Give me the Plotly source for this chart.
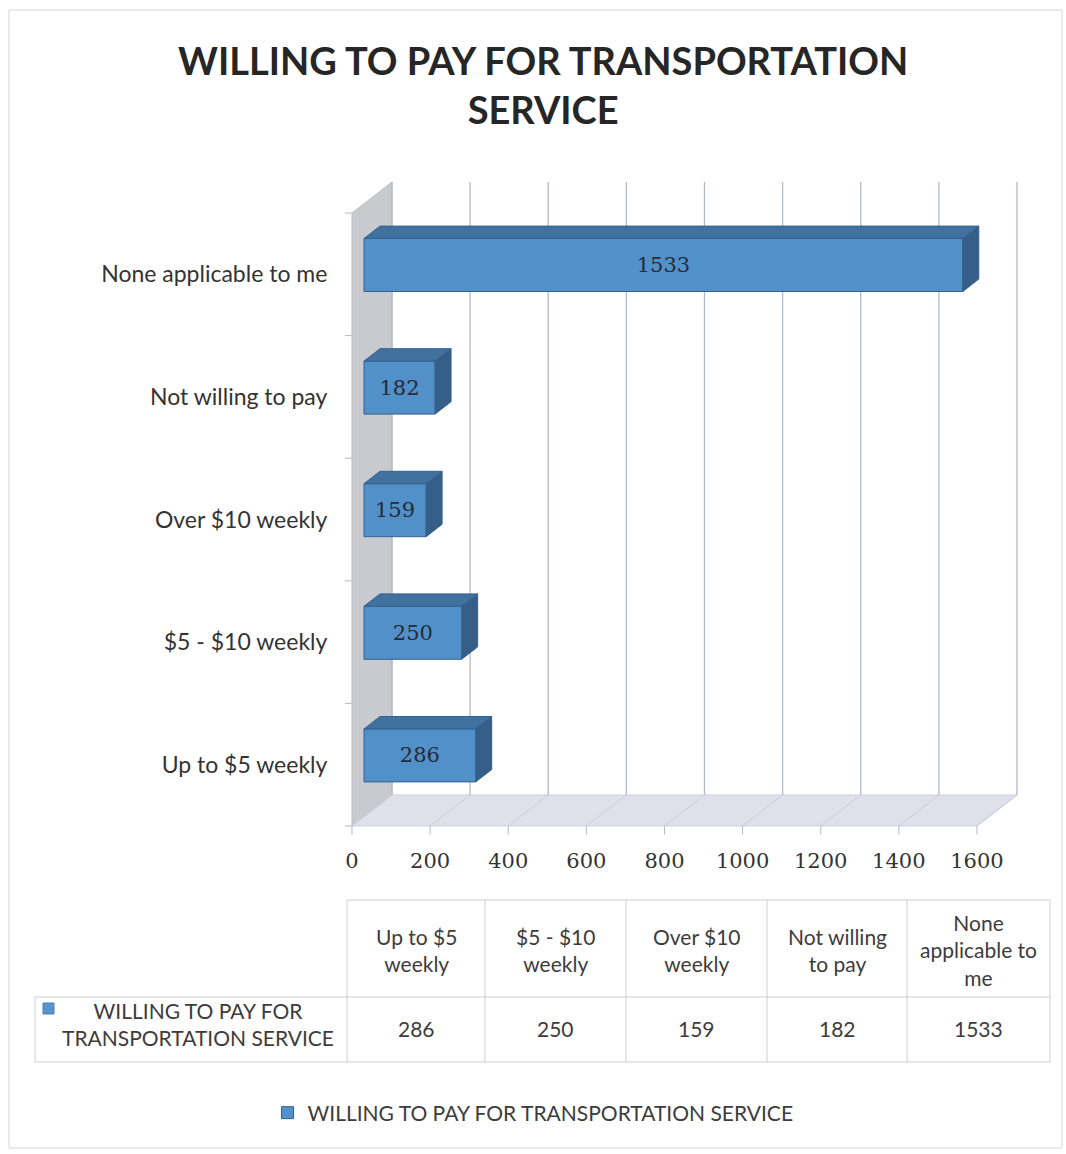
import plotly.graph_objects as go

# ---- data ----
categories = ["Up to $5 weekly", "$5 - $10 weekly", "Over $10 weekly",
              "Not willing to pay", "None applicable to me"]
values = [286, 250, 159, 182, 1533]
table_headers = ["Up to $5<br>weekly", "$5 - $10<br>weekly", "Over $10<br>weekly",
                 "Not willing<br>to pay", "None<br>applicable to<br>me"]
x_ticks = [0, 200, 400, 600, 800, 1000, 1200, 1400, 1600]
series_name = "WILLING TO PAY FOR TRANSPORTATION SERVICE"
series_label_wrapped = "WILLING TO PAY FOR<br>TRANSPORTATION SERVICE"
chart_title = "WILLING TO PAY FOR TRANSPORTATION<br>SERVICE"

# ---- page geometry ----
W, H = 1066, 1154
X0, SX = 352.0, 0.3906      # pixel of value 0 on the front plane, px per unit
Y0, SY = 826.0, 122.6       # pixel of category baseline, px per category band
X_RANGE = [-40, 1750]
Y_RANGE = [-0.12, 5.42]
DX = 40.0 / SX              # depth offset of the 3-D box (value units)
DY = 31.0 / SY              # depth offset of the 3-D box (category units)
D_FRONT, D_BACK = 0.30, 0.70  # bar depth span inside the box
BAR_H = 53.0 / SY


def px_x(p):
    return p / W


def px_y(p):
    return 1 - p / H


x_dom = [px_x(X0 + X_RANGE[0] * SX), px_x(X0 + X_RANGE[1] * SX)]
y_dom = [px_y(Y0 - Y_RANGE[0] * SY), px_y(Y0 - Y_RANGE[1] * SY)]

n = len(categories)
xmax = x_ticks[-1]

WALL = "#c9cad0"
FLOOR = "#dfe0ea"
GRID = "#b4b8c8"
BAR_FRONT = "#5190c9"
BAR_TOP = "#41719f"
BAR_SIDE = "#355f88"
BAR_EDGE = "#36628e"
TEXT = "#333333"

shapes = []


def data_path(xs, ys, fill, line_color, width=1):
    d = "M " + " L ".join(f"{x},{y}" for x, y in zip(xs, ys)) + " Z"
    shapes.append(dict(type="path", xref="x", yref="y", path=d, layer="below",
                       fillcolor=fill, line=dict(color=line_color, width=width)))


def data_line(x0, y0, x1, y1, color, width=1):
    shapes.append(dict(type="line", xref="x", yref="y", layer="below",
                       x0=x0, y0=y0, x1=x1, y1=y1, line=dict(color=color, width=width)))


# left side wall and floor of the 3-D box
data_path([0, DX, DX, 0], [0, DY, n + DY, n], WALL, "#bdbec4")
data_path([0, xmax, xmax + DX, DX], [0, 0, DY, DY], FLOOR, "#cfd1dd")

# back-wall gridlines, floor gridlines and value tick marks
for t in x_ticks:
    data_line(t + DX, DY, t + DX, n + DY, GRID, 1.3)
    data_line(t, 0, t + DX, DY, "#c9cbda")
    data_line(t, 0, t, -0.07, "#b8bac4")

# category tick marks on the front edge of the wall
for i in range(n + 1):
    data_line(-18, i, 0, i, "#b8bac4")

fig = go.Figure()

# bar top and side faces
top_x, top_y, side_x, side_y = [], [], [], []
for i, v in enumerate(values):
    yc = i + 0.5
    yt, yb = yc + BAR_H / 2, yc - BAR_H / 2
    a0, a1 = D_FRONT * DX, D_BACK * DX
    b0, b1 = D_FRONT * DY, D_BACK * DY
    top_x += [a0, v + a0, v + a1, a1, a0, None]
    top_y += [yt + b0, yt + b0, yt + b1, yt + b1, yt + b0, None]
    side_x += [v + a0, v + a1, v + a1, v + a0, v + a0, None]
    side_y += [yb + b0, yb + b1, yt + b1, yt + b0, yb + b0, None]

# bar front faces
fig.add_trace(go.Bar(
    orientation="h",
    x=values,
    y=[i + 0.5 + D_FRONT * DY for i in range(n)],
    base=[D_FRONT * DX] * n,
    width=BAR_H,
    marker=dict(color=BAR_FRONT, line=dict(color=BAR_EDGE, width=1)),
    text=[str(v) for v in values],
    textposition="inside",
    insidetextanchor="middle",
    constraintext="none",
    textangle=0,
    textfont=dict(family="DejaVu Serif", size=21, color="#262b38"),
    name=series_name,
    showlegend=True,
    hoverinfo="skip",
))
fig.add_trace(go.Scatter(x=top_x, y=top_y, mode="lines", fill="toself", fillcolor=BAR_TOP,
                         line=dict(color=BAR_EDGE, width=1), hoverinfo="skip", showlegend=False))
fig.add_trace(go.Scatter(x=side_x, y=side_y, mode="lines", fill="toself", fillcolor=BAR_SIDE,
                         line=dict(color=BAR_EDGE, width=1), hoverinfo="skip", showlegend=False))

# ---- data table under the chart ----
col_edges = [347, 485, 626, 767, 907, 1050]
row_label_left = 35
y_top, y_mid, y_bot = 900, 997, 1062
LINE = "#cfcfcf"


def hline(y, x1, x2):
    shapes.append(dict(type="line", xref="paper", yref="paper",
                       x0=px_x(x1), x1=px_x(x2), y0=px_y(y), y1=px_y(y),
                       line=dict(color=LINE, width=1)))


def vline(x, y1, y2):
    shapes.append(dict(type="line", xref="paper", yref="paper",
                       x0=px_x(x), x1=px_x(x), y0=px_y(y1), y1=px_y(y2),
                       line=dict(color=LINE, width=1)))


hline(y_top, col_edges[0], col_edges[-1])
hline(y_mid, row_label_left, col_edges[-1])
hline(y_bot, row_label_left, col_edges[-1])
vline(row_label_left, y_mid, y_bot)
for xe in col_edges:
    vline(xe, y_top, y_bot)

# outer chart border
shapes.append(dict(type="rect", xref="paper", yref="paper",
                   x0=px_x(9), x1=px_x(1062), y0=px_y(1148), y1=px_y(10),
                   line=dict(color="#d6d6d6", width=1)))

# legend key inside the table row label
shapes.append(dict(type="rect", xref="paper", yref="paper",
                   x0=px_x(43), x1=px_x(54), y0=px_y(1014), y1=px_y(1003),
                   fillcolor="#5a95cc", line=dict(color="#4a80b5", width=1)))

annotations = []
TABLE_FONT = dict(family="Lato", size=21, color="#3c3c3c")
for j, (hdr, v) in enumerate(zip(table_headers, values)):
    xc = (col_edges[j] + col_edges[j + 1]) / 2
    annotations.append(dict(text=hdr, x=px_x(xc), y=px_y((y_top + y_mid) / 2 + 1),
                            xref="paper", yref="paper", showarrow=False,
                            xanchor="center", yanchor="middle", font=TABLE_FONT))
    annotations.append(dict(text=str(v), x=px_x(xc), y=px_y(1028),
                            xref="paper", yref="paper", showarrow=False,
                            xanchor="center", yanchor="middle", font=TABLE_FONT))
annotations.append(dict(text=series_label_wrapped, x=px_x(198), y=px_y(1024),
                        xref="paper", yref="paper", showarrow=False,
                        xanchor="center", yanchor="middle", font=TABLE_FONT))

# title
annotations.append(dict(text="<b>" + chart_title + "</b>", x=px_x(543), y=px_y(84),
                        xref="paper", yref="paper", showarrow=False,
                        xanchor="center", yanchor="middle",
                        font=dict(family="Lato", size=38, color="#262626")))

fig.update_layout(
    width=W, height=H,
    margin=dict(l=0, r=0, t=0, b=0),
    paper_bgcolor="white", plot_bgcolor="white",
    shapes=shapes,
    annotations=annotations,
    barmode="overlay",
    xaxis=dict(domain=x_dom, range=X_RANGE, tickvals=x_ticks,
               showgrid=False, zeroline=False, showline=False, ticks="",
               ticklabelstandoff=5,
               tickfont=dict(family="DejaVu Serif", size=21, color=TEXT),
               fixedrange=True),
    yaxis=dict(domain=y_dom, range=Y_RANGE,
               tickvals=[i + 0.5 for i in range(n)], ticktext=categories,
               showgrid=False, zeroline=False, showline=False, ticks="",
               ticklabelstandoff=8,
               tickfont=dict(family="Lato", size=23, color=TEXT),
               fixedrange=True),
    legend=dict(orientation="h", x=0.5, xanchor="center",
                y=px_y(1113), yanchor="middle",
                font=dict(family="Lato", size=21, color="#3c3c3c"),
                itemwidth=30, bgcolor="rgba(0,0,0,0)"),
    showlegend=True,
)

fig.write_html("out.html")
